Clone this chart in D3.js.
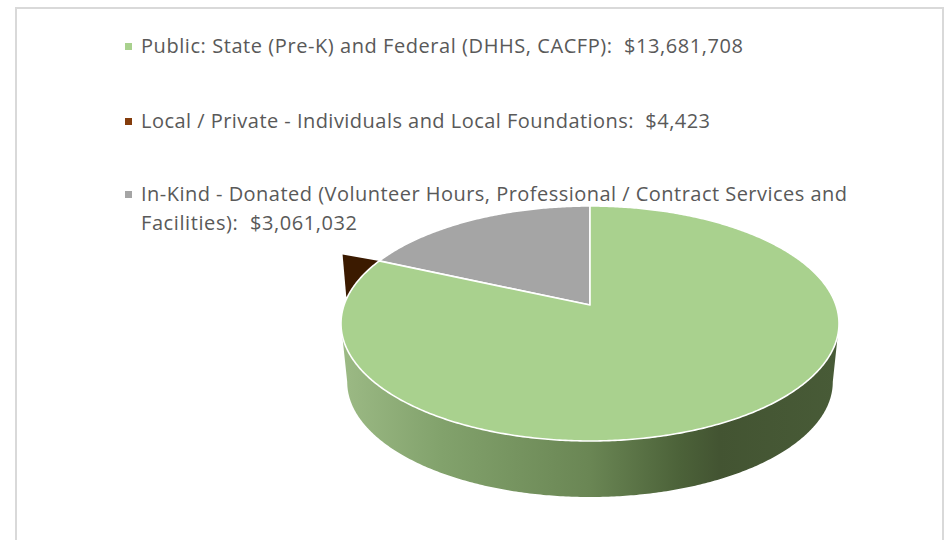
<!DOCTYPE html>
<html>
<head>
<meta charset="utf-8">
<script src="https://cdn.jsdelivr.net/npm/d3@7"></script>
<style>
  html, body { margin: 0; padding: 0; background: #fff; overflow: hidden; }
  svg { display: block; }
  text.legend { font-family: "Open Sans", sans-serif; font-size: 20px; fill: #595959; white-space: pre; }
</style>
</head>
<body>
<script>
// chart values
var categories = ['Public', 'Local / Private', 'In-Kind'];
var amounts = [13681708, 4423, 3061032];
var sliceColors = ['#a9d18e', '#3b1a00', '#a5a5a5'];
var legendColors = ['#a9d18e', '#843c0c', '#a5a5a5'];
var legendLines = [
  ['Public: State (Pre-K) and Federal (DHHS, CACFP):  $13,681,708'],
  ['Local / Private - Individuals and Local Foundations:  $4,423'],
  ['In-Kind - Donated (Volunteer Hours, Professional / Contract Services and', 'Facilities):  $3,061,032']
];
var legendY = [53, 127.5, 200.5];
var legendWidths = [[602], [569], [706, 216]];

var width = 945, height = 540;
var svg = d3.select('body').append('svg').attr('width', width).attr('height', height);

// frame, open at the bottom
svg.append('path')
  .attr('d', 'M16,540V8H943V540')
  .attr('fill', 'none').attr('stroke', '#d9d9d9').attr('stroke-width', 2);

// perspective projection of the pie disc
var cx = 590, apexY = 305, persp = 0.1574, slope = -66.57, radiusX = 245.9;
function project(angle, r) {
  var u = Math.sin(angle) * r, v = Math.cos(angle) * r, d = 1 + persp * v;
  return [cx + radiusX * u / d, (apexY + slope * v) / d];
}
// rim of the bottom face
var rimCY = 323.5, bottomCY = 382, bottomX = 0.975, bottomY = 0.979;
function projectBottom(angle) {
  var p = project(angle, 1);
  return [cx + (p[0] - cx) * bottomX, bottomCY + (p[1] - rimCY) * bottomY];
}
function arcPoints(a0, a1, fn) {
  var n = Math.max(2, Math.ceil(Math.abs(a1 - a0) / 0.01));
  return d3.range(n + 1).map(function(i) { return fn(a0 + (a1 - a0) * i / n); });
}
var line = d3.line();

var pie = d3.pie().sort(null).startAngle(0).endAngle(2 * Math.PI);
var arcs = pie(amounts);

// side wall, between the two widest points of the disc
var grad = svg.append('defs').append('linearGradient')
  .attr('id', 'wall').attr('gradientUnits', 'userSpaceOnUse')
  .attr('x1', 341).attr('x2', 839).attr('y1', 0).attr('y2', 0);
[[0, '#9cba85'], [0.2, '#82a26c'], [0.5, '#6a8654'], [0.68, '#4c6239'], [0.76, '#435432'], [1, '#485b37']]
  .forEach(function(s) { grad.append('stop').attr('offset', s[0]).attr('stop-color', s[1]); });

var wideAngle = Math.acos(-persp);
var front = arcPoints(2 * Math.PI - wideAngle, wideAngle, function(a) { return project(a, 1); });
var back = arcPoints(wideAngle, 2 * Math.PI - wideAngle, projectBottom);
svg.append('path').attr('d', line(front.concat(back)) + 'Z').attr('fill', 'url(#wall)');

// the tiny slice only shows as a dark sliver sticking out behind the big one
var tiny = arcs[1];
var sliverSpan = 20 * Math.PI / 180, sliverReach = 1.18;
svg.append('path')
  .attr('d', line([
    project(tiny.endAngle, 1),
    project(tiny.endAngle - 0.01, sliverReach),
    project(tiny.startAngle - sliverSpan, 1.005),
    project(tiny.startAngle - sliverSpan, 0.9)
  ]) + 'Z')
  .attr('fill', sliceColors[1]);

// top faces
[2, 0].forEach(function(i) {
  var d = arcs[i];
  var pts = [project(0, 0)].concat(arcPoints(d.startAngle, d.endAngle, function(a) { return project(a, 1); }));
  svg.append('path')
    .attr('d', line(pts) + 'Z')
    .attr('fill', sliceColors[i])
    .attr('stroke', '#fff').attr('stroke-width', 1.6).attr('stroke-linejoin', 'round');
});

// legend
legendLines.forEach(function(lines, i) {
  svg.append('rect')
    .attr('x', 125).attr('y', Math.round(legendY[i]) - 10).attr('width', 7).attr('height', 7)
    .attr('fill', legendColors[i]);
  lines.forEach(function(t, j) {
    svg.append('text').attr('class', 'legend')
      .attr('x', 141).attr('y', legendY[i] + j * 29.5)
      .attr('textLength', legendWidths[i][j]).attr('lengthAdjust', 'spacing')
      .text(t);
  });
});
</script>
</body>
</html>
